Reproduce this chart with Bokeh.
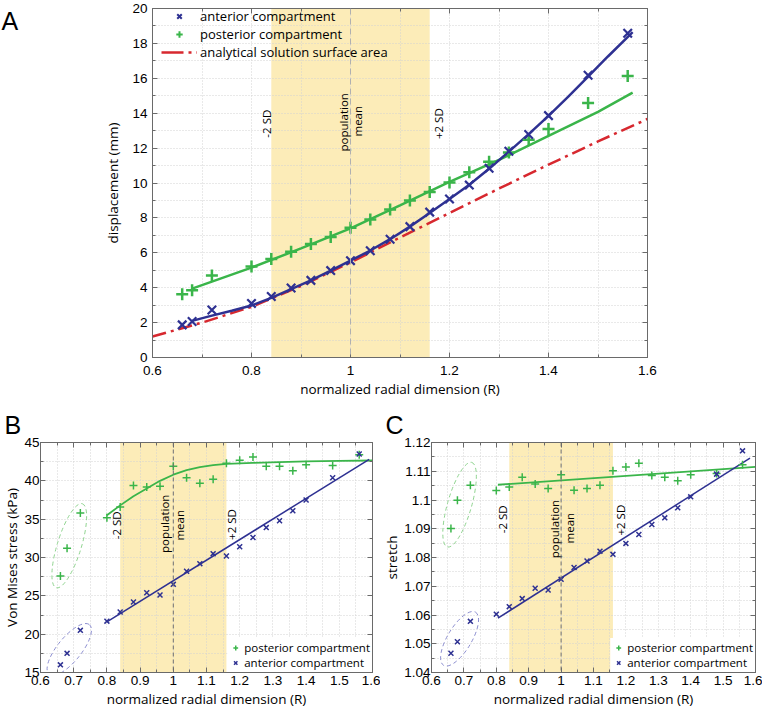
from math import pi
from bokeh.plotting import figure
from bokeh.models import (Range1d, FixedTicker, LinearAxis, BoxAnnotation, Span,
                          CustomJSTickFormatter)
from bokeh.layouts import column, row
from bokeh.core.properties import value
from bokeh.embed import file_html
from bokeh.resources import INLINE

# ---------------- data ----------------
R = [0.66, 0.68, 0.72, 0.80, 0.84, 0.88, 0.92, 0.96, 1.00, 1.04, 1.08,
     1.12, 1.16, 1.20, 1.24, 1.28, 1.32, 1.36, 1.40, 1.48, 1.56]

# Panel A: displacement (mm)
disp_anterior = [1.87, 2.06, 2.72, 3.10, 3.50, 3.98, 4.42, 4.98, 5.55, 6.12, 6.78,
                 7.50, 8.33, 9.08, 9.88, 10.84, 11.82, 12.78, 13.86, 16.17, 18.58]
disp_posterior = [3.63, 3.85, 4.70, 5.21, 5.65, 6.06, 6.50, 6.91, 7.44, 7.91, 8.48,
                  9.00, 9.48, 10.03, 10.61, 11.22, 11.75, 12.48, 13.10, 14.58, 16.13]
fitA_ant_x = [0.68, 0.72, 0.76, 0.80, 0.84, 0.88, 0.92, 0.96, 1.00, 1.04, 1.08, 1.12,
              1.16, 1.20, 1.24, 1.28, 1.32, 1.36, 1.40, 1.44, 1.48, 1.52, 1.57]
fitA_ant_y = [2.10, 2.40, 2.68, 2.98, 3.42, 3.92, 4.42, 4.98, 5.55, 6.13, 6.78, 7.50,
              8.28, 9.08, 9.90, 10.82, 11.80, 12.80, 13.85, 14.95, 16.10, 17.25, 18.65]
fitA_post_x = [0.68, 0.80, 0.90, 1.00, 1.10, 1.20, 1.30, 1.40, 1.50, 1.57]
fitA_post_y = [3.95, 5.15, 6.25, 7.40, 8.72, 10.07, 11.32, 12.70, 14.08, 15.18]
analytic_x = [0.6, 0.7, 0.8, 0.9, 1.0, 1.1, 1.2, 1.3, 1.4, 1.5, 1.6]
analytic_y = [1.20, 2.00, 2.90, 4.10, 5.45, 6.88, 8.28, 9.68, 11.05, 12.38, 13.67]

# Panel B: Von Mises stress (kPa)
stress_posterior = [27.6, 31.2, 35.8, 35.2, 36.6, 39.4, 39.2, 39.3, 41.9, 40.4, 39.7,
                    40.2, 42.3, 42.7, 43.1, 41.9, 41.9, 41.3, 42.1, 42.0, 43.4]
stress_anterior = [16.0, 17.5, 20.5, 21.7, 22.9, 24.2, 25.4, 25.1, 26.5, 28.2, 29.2,
                   30.5, 30.2, 31.4, 32.6, 33.9, 34.8, 36.1, 37.5, 40.4, 43.5]
fitB_post_x = [0.80, 0.84, 0.88, 0.92, 0.96, 1.00, 1.04, 1.08, 1.12, 1.16, 1.24, 1.32, 1.40, 1.50, 1.60]
fitB_post_y = [35.5, 36.8, 38.0, 39.0, 40.0, 40.8, 41.4, 41.8, 42.05, 42.2, 42.35, 42.45, 42.55, 42.6, 42.65]
fitB_ant_x = [0.80, 1.59]
fitB_ant_y = [21.6, 42.8]

# Panel C: stretch
stretch_posterior = [1.0901, 1.0999, 1.1051, 1.1033, 1.1045, 1.1079, 1.1056, 1.1040, 1.1088, 1.1034, 1.1040,
                     1.1051, 1.1102, 1.1115, 1.1128, 1.1085, 1.1079, 1.1067, 1.1088, 1.1092, 1.1123]
stretch_anterior = [1.0467, 1.0507, 1.0578, 1.0603, 1.0629, 1.0657, 1.0693, 1.0687, 1.0724, 1.0765, 1.0788,
                    1.0822, 1.0811, 1.0849, 1.0880, 1.0915, 1.0938, 1.0973, 1.1011, 1.1090, 1.1171]
fitC_post_x = [0.805, 1.60]
fitC_post_y = [1.1053, 1.1115]
fitC_ant_x = [0.805, 1.583]
fitC_ant_y = [1.0589, 1.1146]

SD_LOW, POP_MEAN, SD_HIGH = 0.84, 1.0, 1.16
N_OUTLIERS = 3
NO_POINT = [float("nan")]

# ticks
xticksA = [0.6, 0.8, 1.0, 1.2, 1.4, 1.6]
xlabelsA = ["0.6", "0.8", "1", "1.2", "1.4", "1.6"]
xminorA = [0.7, 0.9, 1.1, 1.3, 1.5]
yticksA = [0, 2, 4, 6, 8, 10, 12, 14, 16, 18, 20]
ylabelsA = [str(v) for v in yticksA]
yminorA = [1, 3, 5, 7, 9, 11, 13, 15, 17, 19]

xticksBC = [0.6, 0.7, 0.8, 0.9, 1.0, 1.1, 1.2, 1.3, 1.4, 1.5, 1.6]
xlabelsBC = ["0.6", "0.7", "0.8", "0.9", "1", "1.1", "1.2", "1.3", "1.4", "1.5", "1.6"]
xminorBC = [0.65, 0.75, 0.85, 0.95, 1.05, 1.15, 1.25, 1.35, 1.45, 1.55]
yticksB = [15, 20, 25, 30, 35, 40, 45]
ylabelsB = [str(v) for v in yticksB]
yminorB = [17.5, 22.5, 27.5, 32.5, 37.5, 42.5]
yticksC = [1.04, 1.05, 1.06, 1.07, 1.08, 1.09, 1.10, 1.11, 1.12]
ylabelsC = ["1.04", "1.05", "1.06", "1.07", "1.08", "1.09", "1.1", "1.11", "1.12"]
yminorC = [1.045, 1.055, 1.065, 1.075, 1.085, 1.095, 1.105, 1.115]

# ---------------- style ----------------
BLUE = "#2e3192"
GREEN = "#3ab54a"
RED = "#d7282f"
SHADE = "#fcecb8"
GRID = "#d2d2d2"
FRAME = "#6a6a6a"
TICKFONT = "Liberation Sans"
TEXTFONT = "Open Sans"


def make_fig(w, h, yr, bl, br, bt, bb):
    p = figure(width=w, height=h, x_range=Range1d(0.6, 1.6), y_range=Range1d(*yr),
               output_backend="svg", toolbar_location=None,
               min_border_left=bl, min_border_right=br, min_border_top=bt, min_border_bottom=bb)
    p.outline_line_color = FRAME
    p.background_fill_color = "white"
    p.border_fill_color = "white"
    return p


def style_axes(p, xt, xl, xm, yt, yl, ym, fs):
    xa, ya = p.below[0], p.left[0]
    for ax, t, l, m in ((xa, xt, xl, xm), (ya, yt, yl, ym)):
        ax.ticker = FixedTicker(ticks=t, minor_ticks=m)
        ax.major_label_overrides = {k: v for k, v in zip(t, l)}
        ax.major_label_text_font = TICKFONT
        ax.major_label_text_font_size = fs
        ax.major_label_text_color = "black"
        ax.axis_line_color = FRAME
        ax.major_tick_line_color = FRAME
        ax.minor_tick_line_color = FRAME
        ax.major_tick_in = 5
        ax.major_tick_out = 0
        ax.minor_tick_in = 3
        ax.minor_tick_out = 0
        ax.axis_label_text_font = TEXTFONT
        ax.axis_label_text_font_style = "normal"
        ax.axis_label_text_color = "black"
    for place, t, m in (("above", xt, xm), ("right", yt, ym)):
        mirror = LinearAxis(ticker=FixedTicker(ticks=t, minor_ticks=m),
                            formatter=CustomJSTickFormatter(code="return ''"),
                            major_label_standoff=0,
                            major_tick_in=5, major_tick_out=0, minor_tick_in=3, minor_tick_out=0,
                            axis_line_color=FRAME, major_tick_line_color=FRAME,
                            minor_tick_line_color=FRAME)
        p.add_layout(mirror, place)
    for g in (p.xgrid[0], p.ygrid[0]):
        g.grid_line_color = GRID
        g.grid_line_dash = "1 2"
        g.minor_grid_line_color = GRID
        g.minor_grid_line_dash = "1 2"
    return xa, ya


def add_band(p, dash_color, dash):
    p.add_layout(BoxAnnotation(left=SD_LOW, right=SD_HIGH, fill_color=SHADE, fill_alpha=1.0,
                               line_alpha=0, level="image"))
    p.add_layout(Span(location=POP_MEAN, dimension="height", line_color=dash_color,
                      line_dash=dash, line_width=1))


def sd_texts(p, xs, ys, fs):
    p.text(x=xs, y=ys, text=["-2 SD", "population", "mean", "+2 SD"], angle=pi / 2,
           text_font=value(TEXTFONT), text_font_size=fs, text_align="center",
           text_baseline="middle", text_color="black")


def letter_title(p, letter, offset):
    p.title.text = letter
    p.title.align = "left"
    p.title.offset = offset
    p.title.standoff = 7
    p.title.text_font = TICKFONT
    p.title.text_font_size = "25px"
    p.title.text_font_style = "normal"
    p.title.text_color = "black"


# ================= Panel A =================
letA = figure(width=28, height=400, x_range=Range1d(0, 1), y_range=Range1d(0, 1),
              output_backend="svg", toolbar_location=None, x_axis_location=None,
              y_axis_location=None, min_border=0)
letA.outline_line_color = None
letA.grid.visible = False
letA.text(x=[0.04], y=[0.964], text=["A"], text_font=value(TICKFONT), text_font_size="25px",
          text_align="left", text_baseline="middle", text_color="black")

pA = make_fig(734, 400, (0, 20), 124, 115, 8, 42)
xaA, yaA = style_axes(pA, xticksA, xlabelsA, xminorA, yticksA, ylabelsA, yminorA, "13.5px")
xaA.axis_label = "normalized radial dimension (R)"
yaA.axis_label = "displacement (mm)"
xaA.axis_label_text_font_size = "13.5px"
yaA.axis_label_text_font_size = "13.5px"
xaA.major_label_standoff = 8
xaA.axis_label_standoff = 2
yaA.major_label_standoff = 5
yaA.axis_label_standoff = 7
add_band(pA, "#b0b0b0", "6 4")
sd_texts(pA, [0.83, 0.986, 1.014, 1.178], [13.4, 13.48, 13.54, 13.4], "11.5px")

pA.line(analytic_x, analytic_y, line_color=RED, line_width=2.5, line_dash="14 5 3 5")
pA.line(fitA_post_x, fitA_post_y, line_color=GREEN, line_width=2.5)
pA.line(fitA_ant_x, fitA_ant_y, line_color=BLUE, line_width=2.5)
pA.scatter(R, disp_posterior, marker="cross", size=12, line_width=2.5, line_color=GREEN)
pA.scatter(R, disp_anterior, marker="x", size=12, line_width=2.2, line_color=BLUE)
# legend entries (an empty point each, only their look is used by the legend)
pA.scatter(NO_POINT, NO_POINT, marker="x", line_width=2, line_color=BLUE,
           legend_label="anterior compartment")
pA.scatter(NO_POINT, NO_POINT, marker="cross", line_width=2, line_color=GREEN,
           legend_label="posterior compartment")
pA.line(NO_POINT, NO_POINT, line_color=RED, line_width=2.5, line_dash="22 5 3 5",
        legend_label="analytical solution surface area")
legA = pA.legend[0]
legA.location = (9, 296)
legA.padding = 0
legA.margin = 0
legA.spacing = 0
legA.glyph_width = 36
legA.glyph_height = 16
legA.label_height = 14
legA.label_standoff = 3
legA.label_text_font = TEXTFONT
legA.label_text_font_size = "13px"
legA.label_text_color = "black"
legA.background_fill_alpha = 0
legA.border_line_alpha = 0

# ================= Panel B =================
pB = make_fig(380, 312, (15, 45), 38, 8, 42, 40)
xaB, yaB = style_axes(pB, xticksBC, xlabelsBC, xminorBC, yticksB, ylabelsB, yminorB, "13.5px")
xaB.axis_label = "normalized radial dimension (R)"
yaB.axis_label = "Von Mises stress (kPa)"
xaB.axis_label_text_font_size = "13.5px"
yaB.axis_label_text_font_size = "13.5px"
xaB.major_label_standoff = 3
xaB.axis_label_standoff = 2
yaB.major_label_standoff = 1
yaB.axis_label_standoff = 0
letter_title(pB, "B", -36)
add_band(pB, "#707070", "4 3")
sd_texts(pB, [0.83, 0.974, 1.019, 1.175], [34.2, 34.4, 34.2, 34.3], "11.5px")

oxB = sum(R[:N_OUTLIERS]) / N_OUTLIERS
pB.ellipse(x=[oxB, oxB], y=[sum(stress_posterior[:N_OUTLIERS]) / N_OUTLIERS,
                            sum(stress_anterior[:N_OUTLIERS]) / N_OUTLIERS],
           width=[88, 64], height=[24, 24], angle=[1.27, 0.89],
           width_units="screen", height_units="screen", fill_alpha=0,
           line_color=["#8fd38f", "#8c8ed0"], line_dash="4 3", line_width=1)
pB.line(fitB_post_x, fitB_post_y, line_color=GREEN, line_width=1.8)
pB.line(fitB_ant_x, fitB_ant_y, line_color=BLUE, line_width=1.5)
pB.scatter(R, stress_posterior, marker="cross", size=8, line_width=1.5, line_color=GREEN,
           legend_label="posterior compartment")
pB.scatter(R, stress_anterior, marker="x", size=7, line_width=1.5, line_color=BLUE,
           legend_label="anterior compartment")

# ================= Panel C =================
pC = make_fig(382, 312, (1.04, 1.12), 49, 7, 42, 40)
xaC, yaC = style_axes(pC, xticksBC, xlabelsBC, xminorBC, yticksC, ylabelsC, yminorC, "13.5px")
xaC.axis_label = "normalized radial dimension (R)"
yaC.axis_label = "stretch"
xaC.axis_label_text_font_size = "13.5px"
yaC.axis_label_text_font_size = "13.5px"
xaC.major_label_standoff = 3
xaC.axis_label_standoff = 2
yaC.major_label_standoff = 1
yaC.axis_label_standoff = 0
letter_title(pC, "C", -46)
add_band(pC, "#707070", "4 3")
sd_texts(pC, [0.818, 0.980, 1.026, 1.183], [1.0933, 1.0899, 1.0902, 1.093], "11.5px")

pC.ellipse(x=[oxB, oxB], y=[sum(stretch_posterior[:N_OUTLIERS]) / N_OUTLIERS,
                            sum(stretch_anterior[:N_OUTLIERS]) / N_OUTLIERS],
           width=[88, 62], height=[24, 24], angle=[1.29, 1.03],
           width_units="screen", height_units="screen", fill_alpha=0,
           line_color=["#8fd38f", "#8c8ed0"], line_dash="4 3", line_width=1)
pC.line(fitC_post_x, fitC_post_y, line_color=GREEN, line_width=1.8)
pC.line(fitC_ant_x, fitC_ant_y, line_color=BLUE, line_width=1.5)
pC.scatter(R, stretch_posterior, marker="cross", size=8, line_width=1.5, line_color=GREEN,
           legend_label="posterior compartment")
pC.scatter(R, stretch_anterior, marker="x", size=7, line_width=1.5, line_color=BLUE,
           legend_label="anterior compartment")

for p in (pB, pC):
    lg = p.legend[0]
    lg.location = "bottom_right"
    lg.padding = 2
    lg.margin = 0
    lg.spacing = 0
    lg.glyph_width = 12
    lg.glyph_height = 15
    lg.label_height = 12
    lg.label_standoff = 3
    lg.label_text_font = TEXTFONT
    lg.label_text_font_size = "11.5px"
    lg.label_text_color = "black"
    lg.background_fill_color = "white"
    lg.background_fill_alpha = 1
    lg.border_line_alpha = 0

layout = column(row(letA, pA), row(pB, pC))
open("out.html", "w").write(file_html(layout, INLINE))
